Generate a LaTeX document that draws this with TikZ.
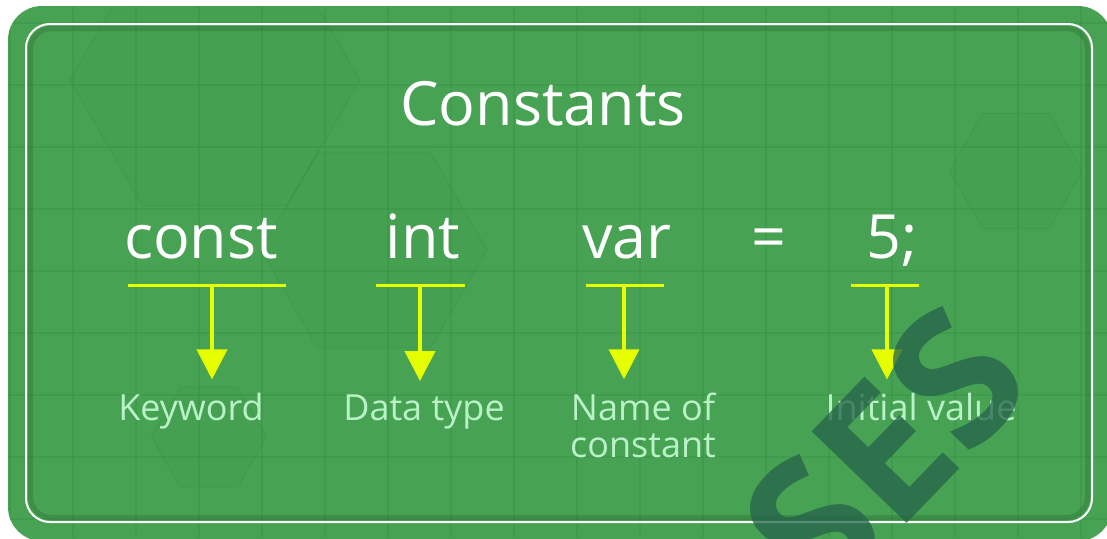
\documentclass[tikz,border=0pt]{standalone}
\usepackage{fontspec}
\setmainfont{Open Sans}
\usetikzlibrary{arrows.meta,shapes.geometric}

\definecolor{boardgreen}{HTML}{48A253}
\definecolor{gridgreen}{HTML}{2C8C38}
\definecolor{markyellow}{HTML}{E6FF00}
\definecolor{labelgreen}{HTML}{B8F2C6}
\definecolor{stampgreen}{HTML}{24634A}

\begin{document}
\begin{tikzpicture}[
    x=1pt, y=-1pt,
    word/.style={text=white, font=\fontsize{61}{61}\selectfont, anchor=base, inner sep=0pt},
    caption/.style={text=labelgreen, font=\fontsize{36}{37}\selectfont, anchor=base, inner sep=0pt, align=center},
    bar/.style={markyellow, line width=3pt},
    pointer/.style={markyellow, line width=4pt, -{Triangle[width=30pt,length=30pt]}, shorten >=13pt},
    gridline/.style={gridgreen, line width=1.5pt, opacity=0.25},
    hexa/.style={regular polygon, regular polygon sides=6, draw=gridgreen, fill=gridgreen, fill opacity=0.07, draw opacity=0.25, line width=1pt},
    stamp/.style={text=stampgreen, text opacity=0.75, font=\fontsize{185}{185}\selectfont\bfseries, rotate=46}
]
\useasboundingbox (0,0) rectangle (1107,538);
\fill[white] (0,0) rectangle (1107,538);

% board with grid and hexagons
\fill[boardgreen, rounded corners=34pt] (8,6) rectangle (1112,541);
\begin{scope}
    \clip[rounded corners=34pt] (8,6) rectangle (1112,541);
    \foreach \gx in {10,73,...,1107}
        \draw[gridline] (\gx,0) -- (\gx,538);
    \foreach \gy in {23,85,...,538}
        \draw[gridline] (0,\gy) -- (1107,\gy);
    \node[hexa, minimum size=290pt] (hexleft) at (215,80) {};
    \node[hexa, minimum size=226pt] (hexmid) at (374,250) {};
    \node[hexa, minimum size=133pt] (hexright) at (1016,171) {};
    \node[hexa, minimum size=115pt] (hexlow) at (209,437) {};
\end{scope}

% frame
\draw[black, opacity=0.12, line width=5pt, rounded corners=21pt] (30.5,28.5) rectangle (1087.5,517.5);
\draw[white, line width=2pt, rounded corners=24pt] (26,24) rectangle (1092,522);

% title
\node[word] (title) at (543,125) {Constants};

% declaration
\node[word] (kw) at (201,258) {const};
\node[word] (ty) at (423,258) {int};
\node[word] (nm) at (627,258) {var};
\node[word] (eq) at (769,258) {=};
\node[word] (vl) at (892,258) {5;};

% captions (two-line one sits on its last baseline)
\node[caption] (kwlab) at (191,420) {Keyword};
\node[caption] (tylab) at (424,420) {Data type};
\node[caption] (nmlab) at (643,457) {Name of\\constant};
\node[caption] (vllab) at (921,420) {Initial value};

% underlines
\coordinate (kwbar) at (212,285);
\coordinate (tybar) at (420,285);
\coordinate (nmbar) at (624,285);
\coordinate (vlbar) at (887,285);
\draw[bar] (128,285) -- (286,285);
\draw[bar] (376,285) -- (465,285);
\draw[bar] (586,285) -- (664,285);
\draw[bar] (851,285) -- (919,285);

% arrows
\draw[pointer] (kwbar) -- (kwbar |- kwlab.north);
\draw[pointer] (tybar) -- (tybar |- tylab.north);
\draw[pointer] (nmbar) -- (nmbar |- nmlab.north);
\draw[pointer] (vlbar) -- (vlbar |- vllab.north);

% stamp
\begin{scope}
    \clip (0,0) rectangle (1107,538);
    \node[stamp] (mark) at (884,452) {SES};
\end{scope}

\end{tikzpicture}
\end{document}
